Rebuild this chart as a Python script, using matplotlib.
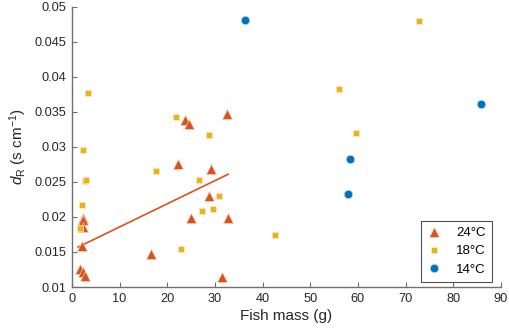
import matplotlib
matplotlib.use('Agg')
import matplotlib.pyplot as plt
from matplotlib.ticker import FormatStrFormatter

plt.rcParams['font.family'] = ['Liberation Sans', 'DejaVu Sans']
plt.rcParams['mathtext.fontset'] = 'custom'
plt.rcParams['mathtext.rm'] = 'Liberation Sans'
plt.rcParams['mathtext.it'] = 'Liberation Sans:italic'

# 24 C
mass_24 = [1.6, 2.3, 2.8, 2.1, 2.3, 2.4, 2.3, 16.5, 22.2, 23.8, 24.6, 24.9, 28.7, 29.1, 31.4, 32.6, 32.8]
dr_24 = [0.0126, 0.0121, 0.0116, 0.0158, 0.0199, 0.0195, 0.0185, 0.0147, 0.0275, 0.0338, 0.0333,
         0.0199, 0.0230, 0.0268, 0.0114, 0.0347, 0.0199]
# 18 C
mass_18 = [1.7, 2.2, 2.7, 2.9, 2.4, 3.4, 17.7, 21.8, 22.9, 26.6, 27.3, 28.8, 29.6, 30.8, 42.6, 56.0, 59.7, 72.9]
dr_18 = [0.0184, 0.0217, 0.0251, 0.0253, 0.0295, 0.0377, 0.0266, 0.0343, 0.0154, 0.0253, 0.0208,
         0.0317, 0.0211, 0.0230, 0.0174, 0.0383, 0.0320, 0.0480]
# 14 C
mass_14 = [36.3, 58.0, 58.4, 85.9]
dr_14 = [0.0481, 0.0233, 0.0282, 0.0361]
# regression line for 24 C
fit_x = [1.3, 32.8]
fit_y = [0.0157, 0.0261]

c24, c18, c14 = '#D95319', '#EDB120', '#0072BD'

fig = plt.figure(figsize=(5.1, 3.33), dpi=100)
ax = fig.add_axes([0.141, 0.138, 0.841, 0.842])

ax.plot(fit_x, fit_y, '-', color=c24, lw=1.2, zorder=2)
ax.plot(mass_24, dr_24, '^', color=c24, ms=7.2, mec='#f6d2c4', mew=0.5, ls='none', label='24°C', zorder=3)
ax.plot(mass_18, dr_18, 's', color=c18, ms=4.8, mec='#fbe9bd', mew=0.5, ls='none', label='18°C', zorder=3)
ax.plot(mass_14, dr_14, 'o', color=c14, ms=6, mec='#bcd7ee', mew=0.5, ls='none', label='14°C', zorder=3)

ax.set_xlim(0, 90)
ax.set_ylim(0.01, 0.05)
ax.set_xticks(range(0, 91, 10))
ax.set_yticks([0.01, 0.015, 0.02, 0.025, 0.03, 0.035, 0.04, 0.045, 0.05])
ax.yaxis.set_major_formatter(FormatStrFormatter('%g'))

for s in ['top', 'right']:
    ax.spines[s].set_visible(False)
for s in ['left', 'bottom']:
    ax.spines[s].set_color('#707070')
    ax.spines[s].set_linewidth(1.0)
ax.tick_params(direction='in', length=3.5, width=0.8, color='#707070', labelsize=9.2,
               labelcolor='#262626', pad=4)

ax.set_xlabel('Fish mass (g)', fontsize=11, color='#262626', labelpad=3)
ax.set_ylabel(r'$d_\mathrm{R}$ (s cm$^{\mathrm{-1}}$)', fontsize=11, color='#262626', labelpad=4)

leg = ax.legend(loc='lower right', bbox_to_anchor=(0.985, 0.01), fontsize=9.5, frameon=True,
                fancybox=False, edgecolor='#262626', handlelength=1.0, handletextpad=1.2,
                borderpad=0.45, labelspacing=0.45, borderaxespad=0.2)
leg.get_frame().set_linewidth(0.8)

fig.savefig('out.png', dpi=100)
